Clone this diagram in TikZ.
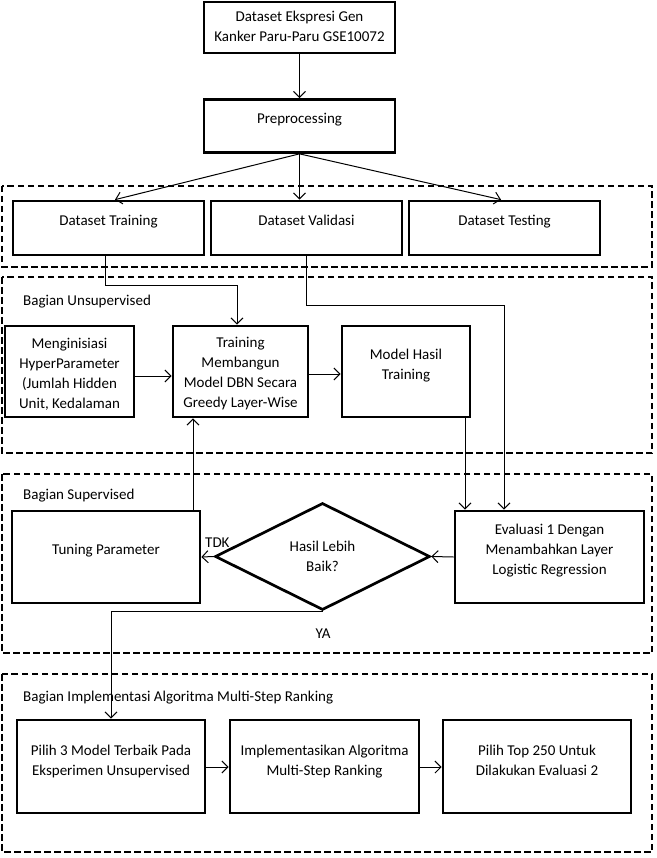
\documentclass[tikz,border=0pt]{standalone}
\usepackage{fontspec}
\setmainfont{Carlito}
\usetikzlibrary{arrows.meta,shapes.geometric}

% top-aligned box text: width, height, first-baseline depth, text
\newcommand\bxt[4]{\parbox[c][#2pt][t]{#1pt}{\centering\rule{0pt}{#3pt}#4}}

\begin{document}
\begin{tikzpicture}[x=1pt,y=-1pt,
  every node/.style={font=\fontsize{15}{20}\selectfont},
  box/.style={draw, line width=2.7pt, inner sep=0pt, rectangle},
  group/.style={draw, line width=2.6pt, dash pattern=on 6.5pt off 3.5pt},
  conn/.style={line width=1pt, -{Straight Barb[length=6pt,width=12pt]}},
  caption/.style={anchor=base west, inner sep=0pt},
]
\useasboundingbox (0,0) rectangle (656,858);

% dashed group frames
\draw[group] (2,186) rectangle (652,267);
\draw[group] (2,277) rectangle (652,453);
\draw[group] (2,474) rectangle (652,653);
\draw[group] (2,674) rectangle (652,852);

\node[caption] (capU) at (23,305.5) {Bagian Unsupervised};
\node[caption] (capS) at (23,499.5) {Bagian Supervised};
\node[caption] (capI) at (23,701.5) {Bagian Implementasi Algoritma Multi-Step Ranking};

% data preparation
\node[box] (src) at (299.5,27.5) {\bxt{191}{51}{20}{Dataset Ekspresi Gen\\Kanker Paru-Paru GSE10072}};
\node[box] (pre) at (299.5,126) {\bxt{191}{53}{24}{Preprocessing}};
\node[box] (dtr) at (108.5,228) {\bxt{191}{54}{25}{Dataset Training}};
\node[box] (dva) at (306.5,228) {\bxt{191}{54}{25}{Dataset Validasi}};
\node[box] (dte) at (504.5,228) {\bxt{191}{54}{25}{Dataset Testing}};

% unsupervised part
\node[box] (init) at (69.5,371.5) {\bxt{129}{91}{22}{Menginisiasi\\HyperParameter\\(Jumlah Hidden\\Unit, Kedalaman}};
\node[box] (train) at (240.5,371.5) {\bxt{135}{91}{21}{Training\\Membangun\\Model DBN Secara\\Greedy Layer-Wise}};
\node[box] (model) at (406,371.5) {\bxt{128}{91}{33}{Model Hasil\\Training}};

% supervised part
\node[box] (tune) at (106,557) {\bxt{188}{92}{43}{Tuning Parameter}};
\node[draw, line width=2.7pt, diamond, aspect=2, inner sep=0pt,
      minimum width=215pt, minimum height=107pt, align=center] (dec) at (322.5,556.5) {Hasil Lebih\\Baik?};
\node[box] (eval) at (549.5,557) {\bxt{189}{92}{23}{Evaluasi 1 Dengan\\Menambahkan Layer\\Logistic Regression}};
\node[caption] (tdk) at (205,547.5) {TDK};
\node[anchor=base, inner sep=0pt] (ya) at (323,638) {YA};

% ranking part
\node[box] (best) at (111,766.5) {\bxt{188}{93}{35}{Pilih 3 Model Terbaik Pada\\Eksperimen Unsupervised}};
\node[box] (rank) at (324.5,766.5) {\bxt{189}{93}{35}{Implementasikan Algoritma\\Multi-Step Ranking}};
\node[box] (top) at (537,766.5) {\bxt{188}{93}{35}{Pilih Top 250 Untuk\\Dilakukan Evaluasi 2}};

% connectors
\draw[conn] (src) -- (pre);
\draw[conn] (pre.south) -- ([xshift=6.5pt]dtr.north);
\draw[conn] (pre.south) -- (dva.north -| pre.south);
\draw[conn] (pre.south) -- ([xshift=-3.5pt]dte.north);

\draw[conn] ([xshift=-3.5pt]dtr.south) -- ++(0,29) -| ([xshift=-3.5pt]train.north);
\draw[conn] (dva.south) -- ++(0,49) -| ([xshift=-45.5pt]eval.north);

\draw[conn] ([yshift=-4.5pt]init.east) -- ([yshift=-4.5pt]train.west);
\draw[conn] ([yshift=-2.5pt]train.east) -- ([yshift=-2.5pt]model.west);
\draw[conn] ([xshift=59pt]model.south) -- ([xshift=59pt]model.south |- eval.north);

\draw[conn] ([xshift=87pt]tune.north) -- ([xshift=87pt]tune.north |- train.south);
\draw[conn] (eval.west) -- (dec.east);
\draw[conn] (dec.west) -- (tune.east);
\draw[conn] (dec.south) -| (best.north);

\draw[conn] ([yshift=-0.5pt]best.east) -- ([yshift=-0.5pt]rank.west);
\draw[conn] ([yshift=-0.5pt]rank.east) -- ([yshift=-0.5pt]top.west);
\end{tikzpicture}
\end{document}
